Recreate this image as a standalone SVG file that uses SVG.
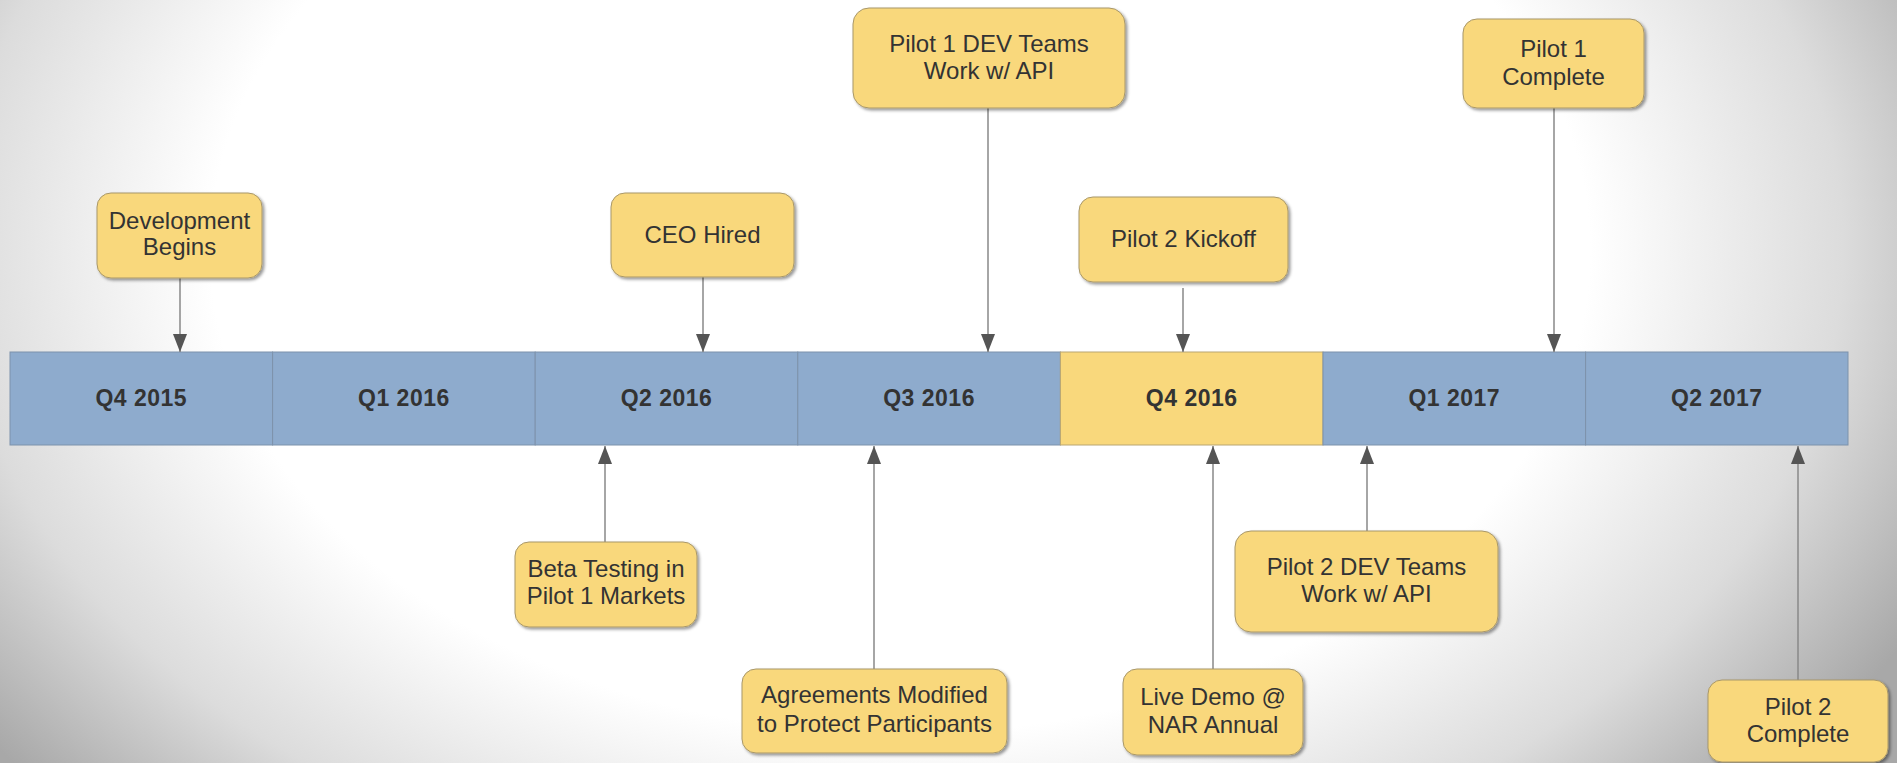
<svg xmlns="http://www.w3.org/2000/svg" width="1897" height="763" viewBox="0 0 1897 763">
  <defs>
    <radialGradient id="bg" gradientUnits="userSpaceOnUse" cx="900" cy="250" r="1150" gradientTransform="translate(900 250) scale(1 0.7) translate(-900 -250)">
      <stop offset="0" stop-color="#ffffff"/>
      <stop offset="0.6" stop-color="#ffffff"/>
      <stop offset="0.82" stop-color="#dcdcdc"/>
      <stop offset="1" stop-color="#a8a8a8"/>
    </radialGradient>
    <filter id="shadow" x="-10%" y="-10%" width="125%" height="130%">
      <feDropShadow dx="2" dy="2" stdDeviation="1.5" flood-color="#000" flood-opacity="0.4"/>
    </filter>
    <marker id="arrow" markerUnits="userSpaceOnUse" viewBox="0 0 18 14" refX="18" refY="7" markerWidth="18" markerHeight="14" orient="auto">
      <path d="M0,0 L18,7 L0,14 z" fill="#555555"/>
    </marker>
    <style>
      .box { fill: #f9d87c; stroke: #a8976a; stroke-width: 1; filter: url(#shadow); }
      .lbl { font-family: "Liberation Sans", Arial, sans-serif; font-size: 24px; fill: #333333; text-anchor: middle; }
      .q { fill: #8eabcd; stroke: #7d92ab; stroke-width: 1; }
      .qcur { fill: #f9d87c; stroke: #b9a673; stroke-width: 1; }
      .qt { font-family: "Liberation Sans", Arial, sans-serif; font-size: 23px; font-weight: bold; fill: #333333; text-anchor: middle; letter-spacing: 0.5px; }
      .conn { stroke: #888888; stroke-width: 1.5; fill: none; marker-end: url(#arrow); }
    </style>
  </defs>

  <rect x="0" y="0" width="1897" height="763" fill="url(#bg)"/>

  <!-- quarter timeline bar -->
  <g id="timeline">
    <g id="q4-2015"><rect class="q" x="10" y="352" width="262.6" height="93"/><text class="qt" x="141.3" y="406">Q4 2015</text></g>
    <g id="q1-2016"><rect class="q" x="272.6" y="352" width="262.6" height="93"/><text class="qt" x="403.9" y="406">Q1 2016</text></g>
    <g id="q2-2016"><rect class="q" x="535.2" y="352" width="262.6" height="93"/><text class="qt" x="666.5" y="406">Q2 2016</text></g>
    <g id="q3-2016"><rect class="q" x="797.8" y="352" width="262.6" height="93"/><text class="qt" x="929.1" y="406">Q3 2016</text></g>
    <g id="q4-2016"><rect class="qcur" x="1060.4" y="352" width="262.6" height="93"/><text class="qt" x="1191.7" y="406">Q4 2016</text></g>
    <g id="q1-2017"><rect class="q" x="1323" y="352" width="262.6" height="93"/><text class="qt" x="1454.3" y="406">Q1 2017</text></g>
    <g id="q2-2017"><rect class="q" x="1585.6" y="352" width="262.4" height="93"/><text class="qt" x="1716.8" y="406">Q2 2017</text></g>
  </g>

  <!-- connectors from milestones to the bar -->
  <g id="connectors">
    <line class="conn" x1="180" y1="278" x2="180" y2="352"/>
    <line class="conn" x1="703" y1="277" x2="703" y2="352"/>
    <line class="conn" x1="988" y1="108" x2="988" y2="352"/>
    <line class="conn" x1="1183" y1="288" x2="1183" y2="352"/>
    <line class="conn" x1="1554" y1="108" x2="1554" y2="352"/>
    <line class="conn" x1="605" y1="542" x2="605" y2="446"/>
    <line class="conn" x1="874" y1="669" x2="874" y2="446"/>
    <line class="conn" x1="1213" y1="669" x2="1213" y2="446"/>
    <line class="conn" x1="1367" y1="531" x2="1367" y2="446"/>
    <line class="conn" x1="1798" y1="680" x2="1798" y2="446"/>
  </g>

  <!-- milestones above the bar -->
  <g id="development-begins">
    <rect class="box" x="97" y="193" width="165" height="85" rx="14"/>
    <text class="lbl" x="179.5" y="229">Development</text>
    <text class="lbl" x="179.5" y="255">Begins</text>
  </g>
  <g id="ceo-hired">
    <rect class="box" x="611" y="193" width="183" height="84" rx="14"/>
    <text class="lbl" x="702.5" y="243">CEO Hired</text>
  </g>
  <g id="pilot1-dev-teams">
    <rect class="box" x="853" y="8" width="272" height="100" rx="16"/>
    <text class="lbl" x="989" y="52">Pilot 1 DEV Teams</text>
    <text class="lbl" x="989" y="79">Work w/ API</text>
  </g>
  <g id="pilot2-kickoff">
    <rect class="box" x="1079" y="197" width="209" height="85" rx="14"/>
    <text class="lbl" x="1183.5" y="247">Pilot 2 Kickoff</text>
  </g>
  <g id="pilot1-complete">
    <rect class="box" x="1463" y="19" width="181" height="89" rx="14"/>
    <text class="lbl" x="1553.5" y="57">Pilot 1</text>
    <text class="lbl" x="1553.5" y="85">Complete</text>
  </g>

  <!-- milestones below the bar -->
  <g id="beta-testing">
    <rect class="box" x="515" y="542" width="182" height="85" rx="14"/>
    <text class="lbl" x="606" y="577">Beta Testing in</text>
    <text class="lbl" x="606" y="604">Pilot 1 Markets</text>
  </g>
  <g id="agreements-modified">
    <rect class="box" x="742" y="669" width="265" height="84" rx="14"/>
    <text class="lbl" x="874.5" y="703">Agreements Modified</text>
    <text class="lbl" x="874.5" y="732">to Protect Participants</text>
  </g>
  <g id="live-demo">
    <rect class="box" x="1123" y="669" width="180" height="86" rx="14"/>
    <text class="lbl" x="1213" y="705">Live Demo @</text>
    <text class="lbl" x="1213" y="733">NAR Annual</text>
  </g>
  <g id="pilot2-dev-teams">
    <rect class="box" x="1235" y="531" width="263" height="101" rx="16"/>
    <text class="lbl" x="1366.5" y="575">Pilot 2 DEV Teams</text>
    <text class="lbl" x="1366.5" y="602">Work w/ API</text>
  </g>
  <g id="pilot2-complete">
    <rect class="box" x="1708" y="680" width="180" height="82" rx="14"/>
    <text class="lbl" x="1798" y="715">Pilot 2</text>
    <text class="lbl" x="1798" y="742">Complete</text>
  </g>
</svg>
